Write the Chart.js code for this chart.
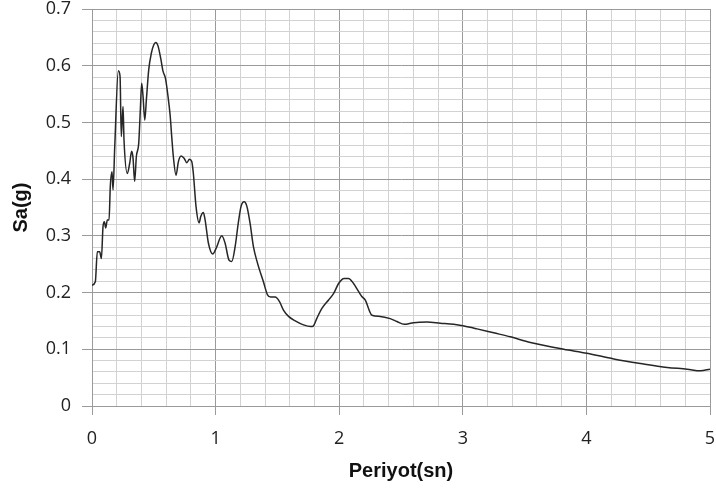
<!DOCTYPE html>
<html>
<head>
<meta charset="utf-8">
<title>Sa(g) - Periyot</title>
<script src="https://cdn.jsdelivr.net/npm/chart.js@4"></script>
<style>
  html, body { margin: 0; padding: 0; background: #fff; }
  #wrap { width: 716px; height: 494px; position: relative; }
</style>
</head>
<body>
<div id="wrap"><canvas id="spectrumChart"></canvas></div>
<script>
// period (s) and spectral acceleration (g)
const periods = [
  0.000, 0.027, 0.043, 0.062, 0.076, 0.089, 0.100, 0.111, 0.124, 0.138,
  0.148, 0.162, 0.170, 0.184, 0.213, 0.227, 0.237, 0.251, 0.259, 0.286,
  0.305, 0.321, 0.332, 0.345, 0.359, 0.378, 0.391, 0.402, 0.413, 0.427,
  0.440, 0.459, 0.480, 0.500, 0.516, 0.534, 0.556, 0.575, 0.594, 0.615,
  0.632, 0.645, 0.658, 0.680, 0.699, 0.721, 0.745, 0.767, 0.788, 0.807,
  0.820, 0.842, 0.866, 0.880, 0.901, 0.915, 0.942, 0.977, 1.004, 1.050,
  1.077, 1.109, 1.131, 1.158, 1.185, 1.206, 1.231, 1.253, 1.279, 1.306,
  1.339, 1.387, 1.420, 1.447, 1.482, 1.517, 1.549, 1.590, 1.644, 1.711,
  1.770, 1.790, 1.820, 1.860, 1.914, 1.954, 1.995, 2.040, 2.075, 2.116,
  2.156, 2.183, 2.210, 2.265, 2.332, 2.413, 2.467, 2.526, 2.602, 2.710,
  2.818, 2.926, 3.010, 3.115, 3.250, 3.385, 3.547, 3.816, 4.005, 4.221,
  4.437, 4.653, 4.815, 4.923, 5.000
];
const saValues = [
  0.213, 0.219, 0.272, 0.272, 0.260, 0.316, 0.325, 0.314, 0.328, 0.328,
  0.387, 0.413, 0.381, 0.457, 0.591, 0.581, 0.475, 0.528, 0.469, 0.410,
  0.428, 0.449, 0.437, 0.396, 0.440, 0.463, 0.522, 0.569, 0.546, 0.504,
  0.540, 0.593, 0.622, 0.637, 0.641, 0.635, 0.613, 0.590, 0.578, 0.546,
  0.513, 0.475, 0.440, 0.407, 0.431, 0.441, 0.437, 0.429, 0.435, 0.431,
  0.410, 0.351, 0.323, 0.334, 0.341, 0.328, 0.287, 0.268, 0.278, 0.300,
  0.287, 0.257, 0.255, 0.281, 0.325, 0.352, 0.360, 0.352, 0.322, 0.281,
  0.252, 0.219, 0.196, 0.192, 0.192, 0.184, 0.169, 0.158, 0.150, 0.143,
  0.140, 0.141, 0.155, 0.172, 0.187, 0.198, 0.216, 0.225, 0.225, 0.216,
  0.202, 0.193, 0.187, 0.160, 0.158, 0.154, 0.149, 0.144, 0.147, 0.148,
  0.146, 0.144, 0.141, 0.136, 0.129, 0.122, 0.112, 0.100, 0.093, 0.083,
  0.075, 0.068, 0.065, 0.062, 0.065
];

// axis setup
const xMin = 0, xMax = 5, xStep = 0.2, xMajor = 1;
const yMin = 0, yMax = 0.7, yStep = 0.02, yMajor = 0.1;
const xTitle = 'Periyot(sn)';
const yTitle = 'Sa(g)';

const MAJOR_GRID = '#9a9a9a';
const MINOR_GRID = '#d2d2d2';

function isMajor(v, major) {
  const r = v / major;
  return Math.abs(r - Math.round(r)) < 1e-6;
}

document.addEventListener('DOMContentLoaded', () => {
  setupChart();
});

function setupChart() {
  const ctx = document.getElementById('spectrumChart').getContext('2d');
  const points = periods.map((p, i) => ({ x: p, y: saValues[i] }));

  const tickFont = { family: '"Open Sans", sans-serif', size: 18 };
  const titleFont = { family: '"Liberation Sans", Arial, sans-serif', size: 20, weight: 'bold' };

  new Chart(ctx, {
    type: 'line',
    data: {
      datasets: [{
        label: yTitle,
        data: points,
        borderColor: '#262626',
        borderWidth: 1.5,
        pointRadius: 0,
        fill: false,
        cubicInterpolationMode: 'monotone'
      }]
    },
    options: {
      responsive: true,
      maintainAspectRatio: false,
      animation: false,
      layout: { padding: { left: 0, right: 0, top: 0, bottom: 11 } },
      plugins: {
        legend: { display: false },
        tooltip: { enabled: false }
      },
      scales: {
        x: {
          type: 'linear',
          min: xMin,
          max: xMax,
          // fixed box so the plot area lines up with the reference
          afterFit: s => {
            s.height = 77;
            s.paddingLeft = 0;
            s.paddingRight = 6;
          },
          border: { color: MAJOR_GRID },
          grid: {
            color: c => isMajor(c.tick.value, xMajor) ? MAJOR_GRID : MINOR_GRID,
            tickColor: c => isMajor(c.tick.value, xMajor) ? MAJOR_GRID : 'rgba(0,0,0,0)',
            tickLength: 9
          },
          ticks: {
            stepSize: xStep,
            autoSkip: false,
            maxRotation: 0,
            color: '#222',
            font: tickFont,
            padding: 13,
            callback: v => isMajor(v, xMajor) ? String(Math.round(v)) : ''
          },
          title: {
            display: true,
            text: xTitle,
            color: '#111',
            font: titleFont,
            padding: { top: 0, bottom: 0 }
          }
        },
        y: {
          min: yMin,
          max: yMax,
          afterFit: s => {
            s.width = 92;
            s.paddingTop = 9;
            s.paddingBottom = 0;
          },
          border: { color: MAJOR_GRID },
          grid: {
            color: c => isMajor(c.tick.value, yMajor) ? MAJOR_GRID : MINOR_GRID,
            tickColor: c => isMajor(c.tick.value, yMajor) ? MAJOR_GRID : 'rgba(0,0,0,0)',
            tickLength: 10
          },
          ticks: {
            stepSize: yStep,
            autoSkip: false,
            color: '#222',
            font: tickFont,
            padding: 11,
            callback: v => isMajor(v, yMajor) ? String(Math.round(v * 10) / 10) : ''
          },
          title: {
            display: true,
            text: yTitle,
            color: '#111',
            font: titleFont,
            padding: { top: 9, bottom: 2 }
          }
        }
      }
    }
  });
}
</script>
</body>
</html>
